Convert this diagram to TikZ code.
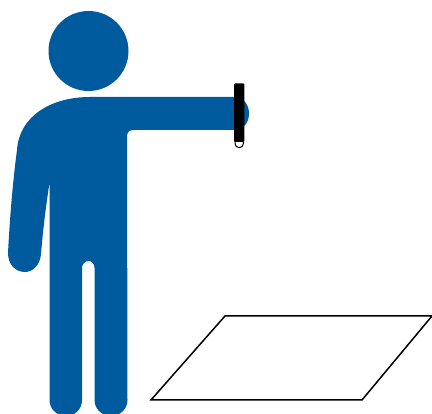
\documentclass[tikz,border=0pt]{standalone}
\definecolor{figblue}{RGB}{0,90,158}
\begin{document}
\begin{tikzpicture}[x=1pt,y=-1pt,figure/.style={fill=figblue,draw=none},plate/.style={draw=black,line width=1.5pt,line join=miter}]
\useasboundingbox (0,0) rectangle (432,414);
\begin{scope}
\clip (0,0) rectangle (432,414);
\fill[figure] (88.5,51) circle (40);
\fill[figure] (90,97) -- (234,97) .. controls (243,97) and (249,104) .. (249,113.5) .. controls (249,123) and (243,130) .. (234,130) -- (134,130) .. controls (129,130) and (127,132) .. (127,137) -- (127.5,400) .. controls (127.5,409) and (120,416) .. (111,416) .. controls (102,416) and (94.5,409) .. (94.5,400) -- (94.5,268) .. controls (94.5,264) and (92,261) .. (88.5,261) .. controls (85,261) and (82,264) .. (82,268) -- (82,400) .. controls (82,409) and (75,416) .. (66,416) .. controls (57,416) and (49.5,409) .. (49.5,400) -- (49.5,183) .. controls (46,205) and (43,230) .. (41,254) .. controls (40,265) and (33,272) .. (25,272) .. controls (15,272) and (8,264) .. (8,253) .. controls (10,215) and (13,180) .. (17,150) .. controls (19,117) and (50,97) .. (90,97) -- cycle;
\end{scope}
\draw[black,line width=1pt,fill=white] (235,138) -- (235,143.5) arc (180:0:4.2) -- (243.4,138) -- cycle;
\fill[black,rounded corners=1pt] (234,83.5) rectangle (244.3,142);
\coordinate (p1) at (225,316); \coordinate (p2) at (432,316); \coordinate (p3) at (362,400); \coordinate (p4) at (151,400);
\draw[plate] (p1) -- (p2) -- (p3) -- (p4) -- cycle;
\end{tikzpicture}
\end{document}
